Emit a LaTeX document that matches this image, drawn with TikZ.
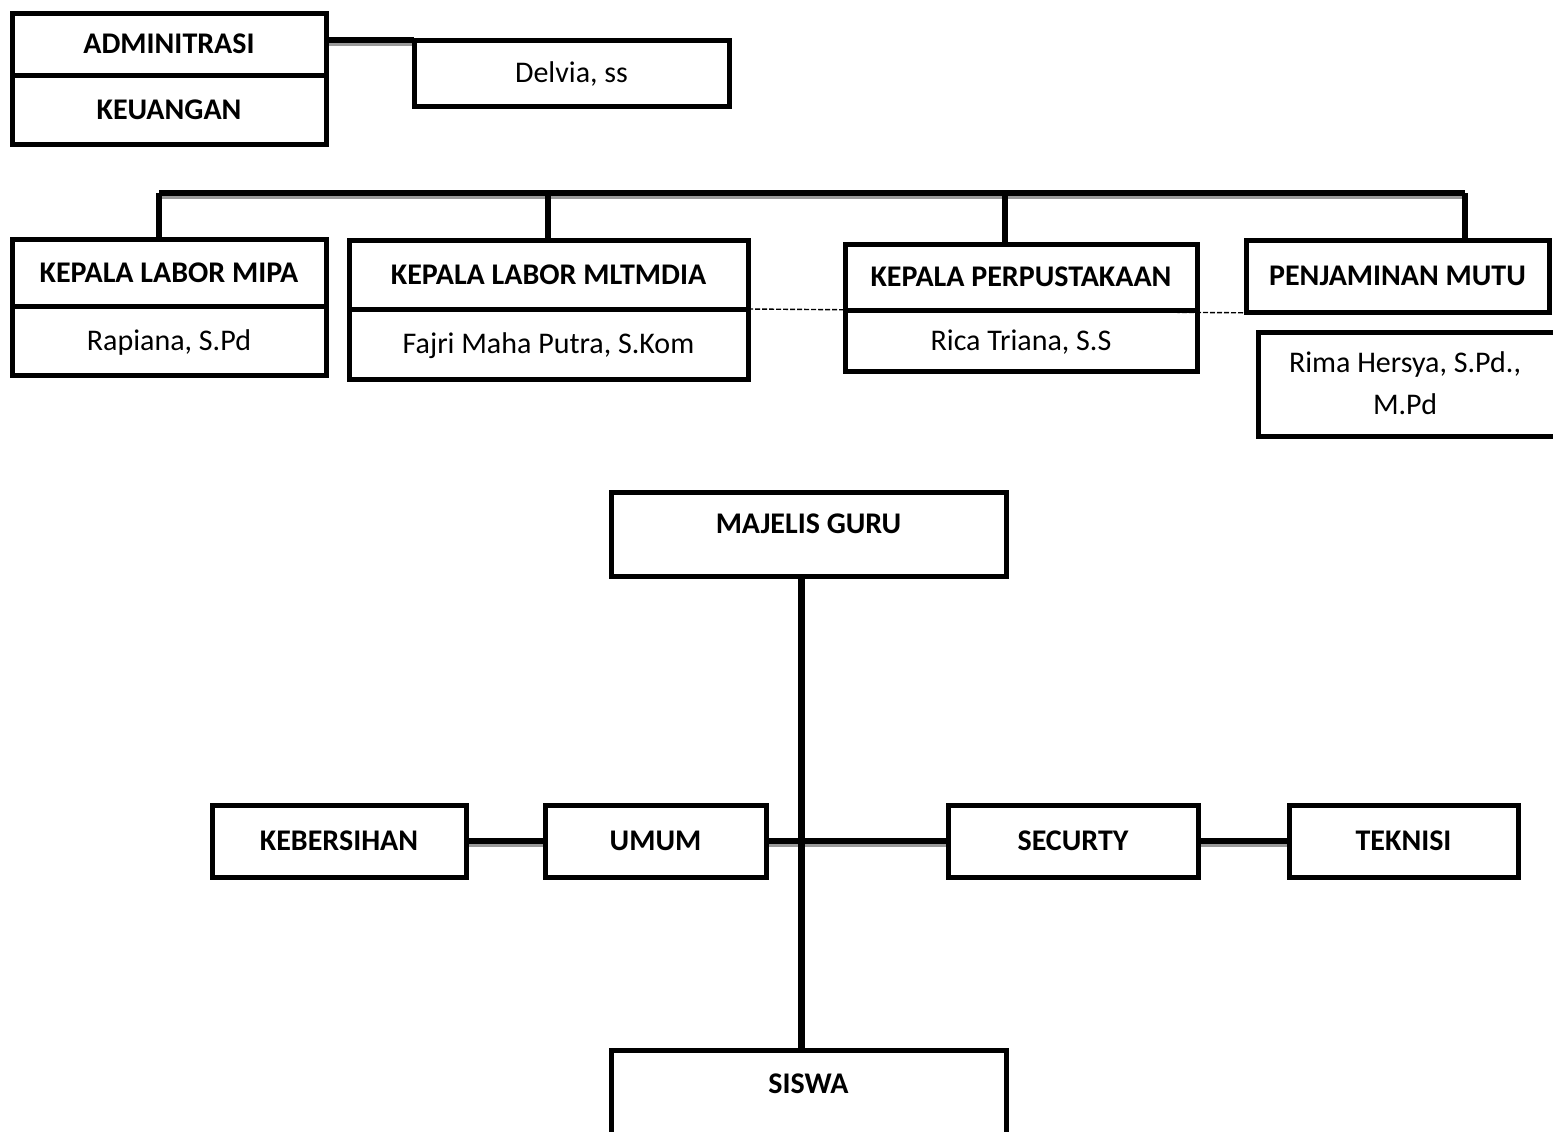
\documentclass[tikz,border=0pt]{standalone}
\usepackage{fontspec}
\setmainfont{Carlito}
\begin{document}
\begin{tikzpicture}[x=0.5pt,y=-0.5pt,
  box/.style={draw=black,line width=2.5pt,fill=white,inner sep=0pt,outer sep=0pt,
     align=center,text height=9.7pt,text depth=0pt,font=\fontsize{15}{21}\selectfont},
  bbox/.style={box,font=\fontsize{15}{21}\selectfont\bfseries},
  conn/.style={draw=black,line width=3pt},
  shadow/.style={draw=black!40,line width=2.5pt,transform canvas={yshift=-1.6pt}},
  dline/.style={draw=black,line width=0.7pt,dash pattern=on 2.5pt off 1pt}]
\useasboundingbox (0,0) rectangle (1553,1131);
\clip (0,0) rectangle (1553,1131);

% coordinates for buses
\coordinate (b1) at (159,193);
\coordinate (b2) at (548,193);
\coordinate (b3) at (1005,193);
\coordinate (b4) at (1465,193);
\coordinate (spine) at (801,700);
\coordinate (dend) at (1270,313);

% shadows first
\path[shadow] (326,40) -- (414,40);
\path[shadow] (b1) -- (b4);
\path[shadow] (466,841) -- (545,841);
\path[shadow] (766,841) -- (948,841);
\path[shadow] (1198,841) -- (1289,841);

% top section
\node[bbox,minimum width=157pt,minimum height=31pt] (admin) at (169,44) {ADMINITRASI};
\node[bbox,minimum width=157pt,minimum height=34.5pt] (keu) at (169,109.5) {KEUANGAN};
\node[box,minimum width=157.5pt,minimum height=33pt] (delvia) at (571.5,73) {Delvia, ss};
\draw[conn] (delvia.north west -| admin.east) -- (delvia.north west);

% second row
\node[bbox,minimum width=157pt,minimum height=33.5pt] (mipa) at (169,272.5) {KEPALA LABOR MIPA};
\node[box,minimum width=157pt,minimum height=34.5pt] (mipan) at (169,340.5) {Rapiana, S.Pd};
\node[box,minimum width=199.5pt,minimum height=35pt] (mltn) at (548.5,344) {Fajri Maha Putra, S.Kom};
\node[bbox,minimum width=199.5pt,minimum height=34.5pt] (mlt) at (548.5,274.5) {KEPALA LABOR MLTMDIA};
\node[box,minimum width=176pt,minimum height=30.5pt] (perpn) at (1021,340.5) {Rica Triana, S.S};
\node[bbox,minimum width=176pt,minimum height=33pt] (perp) at (1021,277) {KEPALA PERPUSTAKAAN};
\node[bbox,minimum width=151.5pt,minimum height=36pt] (mutu) at (1397.5,276) {PENJAMINAN MUTU};
\node[box,minimum width=151pt,minimum height=52pt,text height=30.7pt,text depth=0pt] (rima) at (1409,384)
  {\hspace*{-4pt}Rima Hersya, S.Pd.,\\\hspace*{-4pt}M.Pd};

\draw[conn,line width=2.8pt] (b1) -- (b4);
\draw[conn,line width=2.8pt] (b1) -- (b1 |- mipa.north);
\draw[conn,line width=2.8pt] (b2) -- (b2 |- mlt.north);
\draw[conn,line width=2.8pt] (b3) -- (b3 |- perp.north);
\draw[conn,line width=2.8pt] (b4) -- (b4 |- mutu.north);
\draw[dline] (mltn.north east) -- (dend);

% lower section
\node[bbox,minimum width=197.5pt,minimum height=42pt,text depth=10pt] (majelis) at (808.5,534) {MAJELIS GURU};
\node[bbox,minimum width=197.5pt,minimum height=50pt,text depth=16pt] (siswa) at (808.5,1100) {SISWA};
\node[bbox,minimum width=127pt,minimum height=36pt] (keb) at (339,841) {KEBERSIHAN};
\node[bbox,minimum width=110.5pt,minimum height=36pt] (umum) at (655.5,841) {UMUM};
\node[bbox,minimum width=125pt,minimum height=36pt] (sec) at (1073,841) {SECURTY};
\node[bbox,minimum width=114.5pt,minimum height=36pt] (tek) at (1403.5,841) {TEKNISI};

\draw[conn,line width=3.5pt] (majelis.south -| spine) -- (siswa.north -| spine);
\draw[conn] (keb.east) -- (umum.west);
\draw[conn] (umum.east) -- (sec.west);
\draw[conn] (sec.east) -- (tek.west);
\end{tikzpicture}
\end{document}
